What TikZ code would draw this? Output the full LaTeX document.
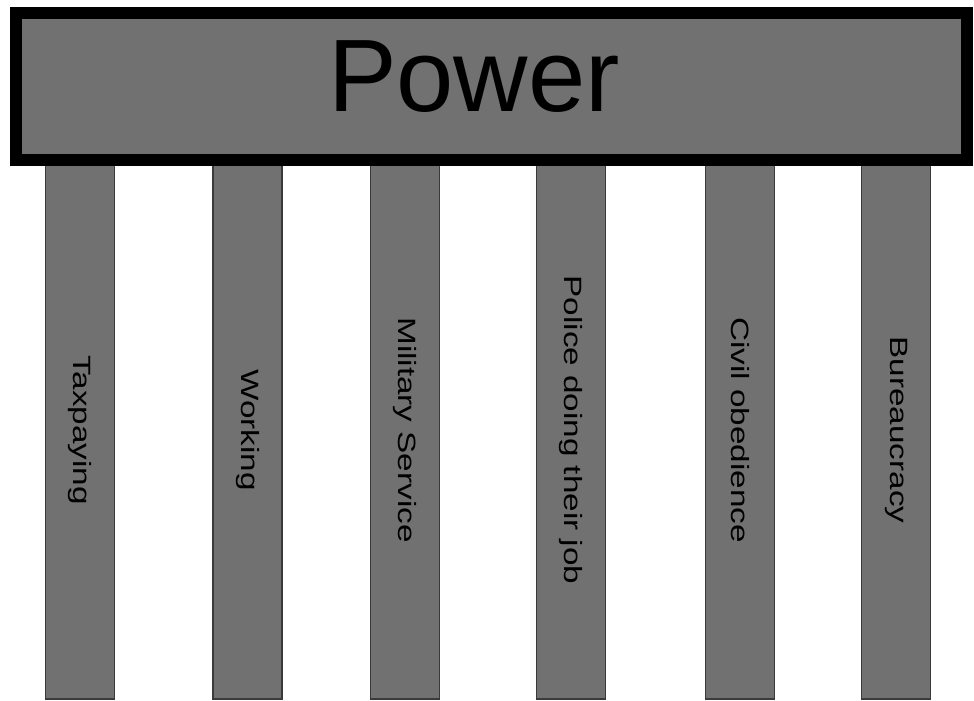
\documentclass[tikz,border=0pt]{standalone}
\usepackage{fontspec}
\setmainfont{Liberation Sans}
\usepackage{graphicx}
\definecolor{pgray}{HTML}{717171}
\definecolor{pedge}{HTML}{3A3A3A}
\begin{document}
\begin{tikzpicture}[x=1pt,y=-1pt,
  pillar/.style={draw=pedge, line width=1.3pt, fill=pgray, rotate=-90,
    minimum width=538pt, minimum height=69pt, inner sep=0pt,
    font=\fontsize{25}{25}\selectfont, text=black},
  topbox/.style={draw=black, line width=12pt, fill=pgray,
    minimum width=951pt, minimum height=147pt, inner sep=0pt},
  bigtext/.style={font=\fontsize{103}{103}\selectfont, text=black, inner sep=0pt}]
\useasboundingbox (0,0) rectangle (974,701);
\fill[white] (0,0) rectangle (974,701);
\node[pillar] (p1) at (80,430) {\scalebox{1.33}[1]{Taxpaying}};
\node[pillar] (p2) at (247.5,430) {\scalebox{1.33}[1]{Working}};
\node[pillar] (p3) at (405,430) {\scalebox{1.33}[1]{Military Service}};
\node[pillar] (p4) at (571,430) {\scalebox{1.33}[1]{Police doing their job}};
\node[pillar] (p5) at (740,430) {\scalebox{1.33}[1]{Civil obedience}};
\node[pillar] (p6) at (896,430) {\scalebox{1.33}[1]{Bureaucracy}};
\node[topbox] (power) at (491.5,86.5) {};
\node[bigtext, anchor=base] (powertext) at (474,111) {Power};
\end{tikzpicture}
\end{document}
